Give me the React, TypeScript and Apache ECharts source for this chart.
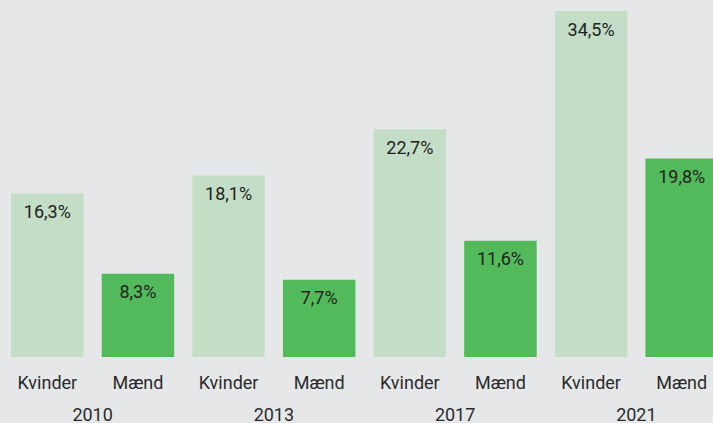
import React, { useEffect, useRef } from "react";
import * as echarts from "echarts";

const groups = ["Kvinder", "Mænd", "Kvinder", "Mænd", "Kvinder", "Mænd", "Kvinder", "Mænd"];
const years = ["2010", "2013", "2017", "2021"];
const values = [16.3, 8.3, 18.1, 7.7, 22.7, 11.6, 34.5, 19.8];
const colors = ["#c3ddc6", "#52ba5a"];

export default function App() {
  const ref = useRef<HTMLDivElement>(null);
  useEffect(() => {
    document.body.style.margin = "0";
    document.body.style.overflow = "hidden";
    const chart = echarts.init(ref.current!, null, { renderer: "svg" });
    chart.setOption({
      animation: false,
      backgroundColor: "#e6e7e9",
      textStyle: { fontFamily: "Roboto" },
      grid: { left: 2, top: 6, right: 3, height: 352, containLabel: false },
      xAxis: [
        {
          type: "category",
          data: groups,
          axisLine: { show: false },
          axisTick: { show: false },
          axisLabel: { color: "#2b2b2b", fontSize: 18, margin: 16, fontFamily: "Roboto" },
        },
        {
          type: "category",
          data: years,
          position: "bottom",
          axisLine: { show: false },
          axisTick: { show: false },
          axisLabel: { color: "#2b2b2b", fontSize: 18, margin: 48, fontFamily: "Roboto" },
        },
      ],
      yAxis: { type: "value", min: 0, max: 35, show: false, splitLine: { show: false } },
      series: [
        {
          type: "bar",
          xAxisIndex: 0,
          barCategoryGap: "20%",
          data: values.map((v, i) => ({ value: v, itemStyle: { color: colors[i % 2] } })),
          label: {
            show: true,
            position: "insideTop",
            distance: 9,
            fontSize: 18,
            color: "#222",
            fontFamily: "Roboto",
            formatter: (p: any) => String(p.value).replace(".", ",") + "%",
          },
        },
      ],
    });
    return () => chart.dispose();
  }, []);
  return (
    <div style={{ width: 713, height: 423, overflow: "hidden" }}>
      <div ref={ref} style={{ width: 730, height: 423 }} />
    </div>
  );
}
